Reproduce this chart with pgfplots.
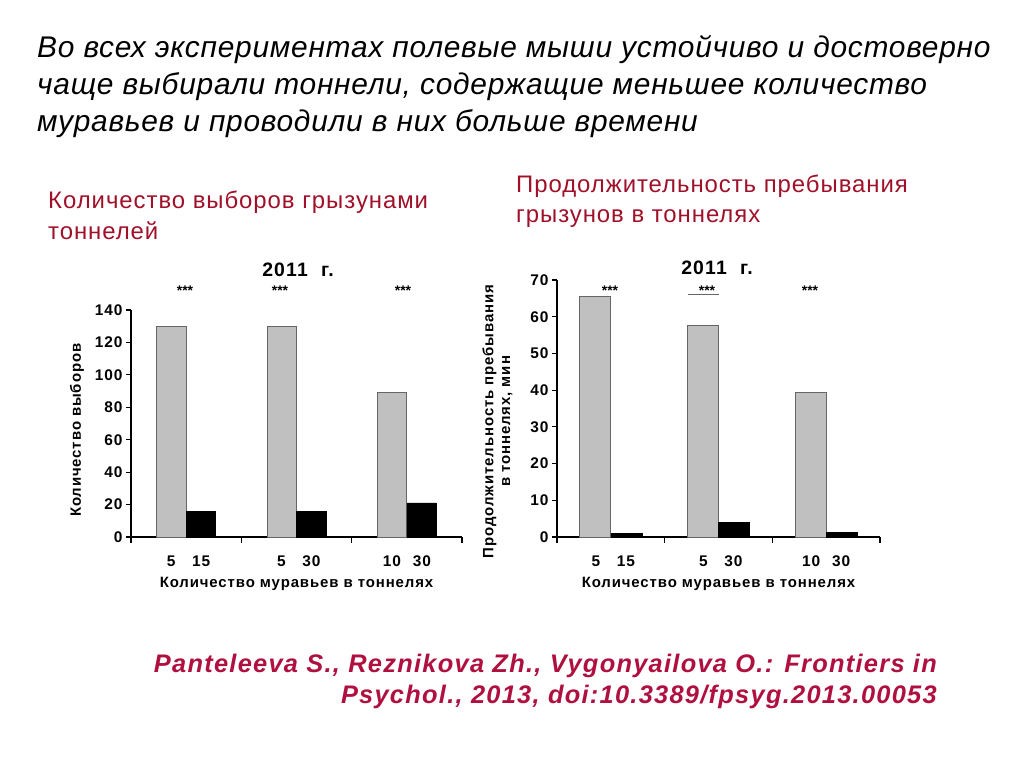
\documentclass[border=0pt]{standalone}
\usepackage{fontspec}
\setmainfont{Liberation Sans}
\newfontfamily\headfont[LetterSpace=2.5]{Liberation Sans}
\newfontfamily\redfont[LetterSpace=4]{Liberation Sans}
\newfontfamily\citefont[LetterSpace=5]{Liberation Sans}
\newfontfamily\chartfont[LetterSpace=6]{Liberation Sans}
\usepackage{pgfplots}
\pgfplotsset{compat=1.18}
\definecolor{subred}{RGB}{160,16,40}
\definecolor{citered}{RGB}{176,16,64}
\definecolor{bargray}{RGB}{192,192,192}
\newcommand\lbl[2]{\makebox[30bp]{#1}\makebox[30bp]{#2}}

\pgfplotsset{
  antbars/.style={
    scale only axis,
    xmin=0, xmax=3, ymin=0,
    axis x line*=bottom, axis y line*=left,
    axis line style={line width=1.2bp},
    ybar=0pt,
    xtick={0.5,1.5,2.5},
    major x tick style={draw=none},
    minor xtick={0,1,2,3},
    minor tick length=6bp,
    major tick length=5bp,
    tick align=outside,
    tick style={black, line width=1.2bp},
    xticklabels={\lbl{5}{15},\lbl{5}{30},\lbl{10}{30}},
    ticklabel style={font=\chartfont\bfseries\fontsize{15.5}{17}\selectfont},
    xticklabel style={yshift=-10bp},
    label style={font=\chartfont\bfseries\fontsize{15}{17}\selectfont},
    xlabel style={yshift=-4bp},
    /pgf/number format/assume math mode=true,
  },
}

\begin{document}
\begin{tikzpicture}
\useasboundingbox (0,0) rectangle (1024bp,-768bp);
\fill[white] (0,0) rectangle (1024bp,-768bp);

% heading
\begin{scope}[every node/.style={anchor=base west, inner sep=0pt, font=\headfont\itshape\fontsize{30}{34}\selectfont}]
\node at (37bp,-57bp) {Во всех экспериментах полевые мыши устойчиво и достоверно};
\node at (37bp,-94bp) {чаще выбирали тоннели, содержащие меньшее количество};
\node at (37bp,-131bp) {муравьев и проводили в них больше времени};
\end{scope}

\begin{scope}[every node/.style={anchor=base west, inner sep=0pt, text=subred, font=\redfont\fontsize{24}{26}\selectfont}]
\node at (48bp,-208bp) {Количество выборов грызунами};
\node at (48bp,-239bp) {тоннелей};
\node at (516bp,-192bp) {Продолжительность пребывания};
\node at (516bp,-222bp) {грызунов в тоннелях};
\end{scope}

% left chart
\begin{axis}[antbars, at={(131bp,-537bp)}, anchor=south west,
  width=331bp, height=227bp, ymax=140, ytick={0,20,...,140},
  bar width=29.5bp,
  xlabel={Количество муравьев в тоннелях},
  ylabel={Количество выборов},
  ylabel style={at={(ticklabel cs:0.47)}}, ylabel shift=4bp]
\addplot[fill=bargray, draw=black!60, line width=0.8bp]
  coordinates {(0.5,130) (1.5,130) (2.5,89)};
\addplot[fill=black, draw=black]
  coordinates {(0.5,16) (1.5,16) (2.5,21)};
\end{axis}
\node[font=\chartfont\bfseries\fontsize{19.5}{22}\selectfont] at (298bp,-270bp) {2011\ \ г.};
\begin{scope}[every node/.style={font=\bfseries\fontsize{14}{16}\selectfont}]
\node at (185bp,-291bp) {***};
\node at (280bp,-291bp) {***};
\node at (403bp,-291bp) {***};
\end{scope}

% right chart
\begin{axis}[antbars, at={(557bp,-537bp)}, anchor=south west,
  width=323bp, height=257bp, ymax=70, ytick={0,10,...,70},
  bar width=31bp,
  xlabel={Количество муравьев в тоннелях},
  ylabel={Продолжительность пребывания\\в тоннелях, мин},
  ylabel style={align=center, at={(ticklabel cs:0.45)}}, ylabel shift=11bp]
\addplot[fill=bargray, draw=black!60, line width=0.8bp]
  coordinates {(0.5,65.5) (1.5,57.6) (2.5,39.3)};
\addplot[fill=black, draw=black]
  coordinates {(0.5,1.0) (1.5,4.0) (2.5,1.3)};
\draw[black!60, line width=0.8bp] (axis cs:1.216,66.2) -- (axis cs:1.504,66.2);
\end{axis}
\node[font=\chartfont\bfseries\fontsize{19.5}{22}\selectfont] at (717bp,-268bp) {2011\ \ г.};
\begin{scope}[every node/.style={font=\bfseries\fontsize{14}{16}\selectfont}]
\node at (610bp,-291bp) {***};
\node at (707bp,-291bp) {***};
\node at (810bp,-291bp) {***};
\end{scope}

% citation
\begin{scope}[every node/.style={anchor=base east, inner sep=0pt, text=citered, font=\citefont\bfseries\itshape\fontsize{25.5}{28}\selectfont}]
\node at (937bp,-672bp) {Panteleeva S., Reznikova Zh., Vygonyailova O.: Frontiers in};
\node at (937bp,-703bp) {Psychol., 2013, doi:10.3389/fpsyg.2013.00053};
\end{scope}
\end{tikzpicture}
\end{document}
